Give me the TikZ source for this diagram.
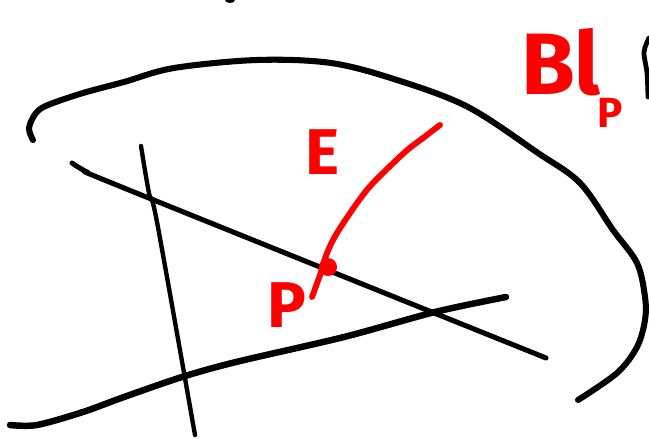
\documentclass[tikz,border=0pt]{standalone}
\usepackage{fontspec}
\setsansfont{Fira Sans}
\usetikzlibrary{positioning}
\definecolor{PR}{RGB}{255,0,0}
\definecolor{INK}{RGB}{0,0,0}

\begin{document}
\begin{tikzpicture}[x=0.025cm, y=-0.025cm,
  ink/.style={draw=INK, line width=#1, line cap=round, line join=round},
  ink/.default=3.4pt,
  red ink/.style={draw=PR, line width=4.2pt, line cap=round, line join=round},
  lab/.style={text=PR, inner sep=0pt, font=\sffamily\bfseries\fontsize{#1}{#1}\selectfont},
  lab/.default=46pt,
  pt/.style={circle, fill=PR, inner sep=0pt, minimum size=0.45cm}
]
\useasboundingbox (0,0) rectangle (649,439);

% Outline
\draw[ink=4.3pt] plot[smooth, tension=0.55] coordinates {
  (33,140) (29,128) (36,113) (48,105) (83,93) (124,82) (174,68) (257,60)
  (331,63) (397,80) (468,107) (538,153) (580,183) (613,230) (637,263)
  (645,297) (645,320) (637,347) (617,373) (578,400)};

% Three lines
\draw[ink=3.6pt] plot[smooth, tension=0.5] coordinates {(72,163) (87,172) (124,188) (546,358)};
\draw[ink=3.1pt] plot[smooth, tension=0.5] coordinates {(141,146) (149,193) (157,222) (195,435)};
\draw[ink=4.6pt] plot[smooth, tension=0.5] coordinates {
  (10,425) (37,425) (83,412) (124,397) (182,377) (236,362) (344,337) (435,312) (506,297)};

% Curve E through p
\node[pt] (p) at (328,267) {};
\draw[red ink] plot[smooth, tension=0.5] coordinates {
  (440,125) (423,138) (405,152) (373,183) (357,203) (337,233) (327,253) (320,275) (312,297)};
\node[lab] (lblE) at (323,152) {E};
\node[lab] (lblP) at (287,305) {P};

% Blow-up label
\node[lab=62pt] (lblBl) at (561,62) {Bl};
\node[lab=30pt, anchor=north west] (lblSub) at (597,98) {P};

% Cut-off strokes at the edges
\fill[INK] (230,0) ellipse [x radius=5, y radius=3];
\draw[ink=3.4pt] plot[smooth, tension=0.5] coordinates {(649,38) (644,52) (647,73) (648,97)};
\end{tikzpicture}
\end{document}
